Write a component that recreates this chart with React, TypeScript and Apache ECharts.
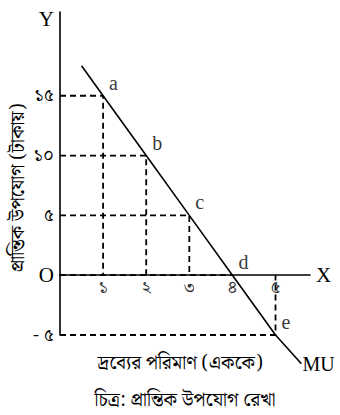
import React, { useEffect, useRef } from "react";
import * as echarts from "echarts";

const quantities = [1, 2, 3, 4, 5];
const marginalUtility = [15, 10, 5, 0, -5];
const pointNames = ["a", "b", "c", "d", "e"];
const lineStart = [0.5, 17.5];
const lineEnd = [5.6, -7.4];
const bnDigits: Record<string, string> = { "-5": "- ৫", "0": "O", "5": "৫", "10": "১০", "15": "১৫" };
const xTickLabels = ["১", "২", "৩", "৪", "৫"];
const yTitle = "প্রান্তিক উপযোগ (টাকায়)";
const xTitle = "দ্রব্যের পরিমাণ (এককে)";
const caption = "চিত্র: প্রান্তিক উপযোগ রেখা";

const SERIF = "'Liberation Serif', 'DejaVu Serif', serif";
const BN = "'Noto Serif Bengali', 'Noto Sans Bengali', 'Lohit Bengali', 'Noto Sans', sans-serif";

export default function App() {
  const ref = useRef<HTMLDivElement>(null);
  useEffect(() => {
    if (!ref.current) return;
    const chart = echarts.init(ref.current, null, { renderer: "svg" });
    const guides = quantities.map((q, i) => ({
      type: "line",
      data: [[0, marginalUtility[i]], [q, marginalUtility[i]], [q, 0]],
      symbol: "none",
      silent: true,
      lineStyle: { color: "#000", width: 1.8, type: [6, 4] },
      z: 1,
    }));
    chart.setOption({
      animation: false,
      grid: { left: 60, right: 30, top: 12, bottom: 80 },
      xAxis: {
        type: "value",
        min: 0,
        max: 5.8,
        interval: 1,
        name: "X",
        nameLocation: "end",
        nameGap: 6,
        nameTextStyle: { fontFamily: SERIF, fontSize: 21, color: "#000", verticalAlign: "middle" },
        axisLine: { onZero: true, lineStyle: { color: "#000", width: 1.6 } },
        axisTick: { show: false },
        splitLine: { show: false },
        axisLabel: { show: false },
      },
      yAxis: {
        type: "value",
        min: -5,
        max: 22,
        interval: 5,
        name: "Y",
        nameLocation: "end",
        nameGap: 4,
        nameTextStyle: {
          fontFamily: SERIF,
          fontSize: 21,
          color: "#000",
          align: "right",
          verticalAlign: "top",
          padding: [0, 6, 0, 0],
        },
        axisLine: { show: true, lineStyle: { color: "#000", width: 1.6 } },
        axisTick: { show: false },
        splitLine: { show: false },
        axisLabel: {
          formatter: (v: number) => {
            const s = bnDigits[String(v)] || "";
            return v === 0 ? "{o|" + s + "}" : s;
          },
          fontFamily: BN,
          fontSize: 18,
          color: "#000",
          margin: 6,
          rich: { o: { fontFamily: SERIF, fontSize: 21, color: "#000" } },
        },
      },
      series: [
        ...guides,
        {
          type: "line",
          data: [lineStart, ...quantities.map((q, i) => [q, marginalUtility[i]]), lineEnd],
          symbol: "none",
          clip: false,
          lineStyle: { color: "#000", width: 1.6 },
          z: 3,
          endLabel: {
            show: true,
            formatter: "MU",
            fontFamily: SERIF,
            fontSize: 20,
            color: "#000",
            distance: 1,
          },
        },
        {
          type: "scatter",
          data: quantities.map((q, i) => ({ value: [q, marginalUtility[i]], name: pointNames[i] })),
          symbolSize: 0,
          label: {
            show: true,
            position: "right",
            formatter: "{b}",
            fontFamily: SERIF,
            fontSize: 20,
            color: "#000",
            offset: [1, -13],
          },
          z: 4,
        },
        {
          type: "scatter",
          data: quantities.map((q, i) => ({ value: [q, 0], name: xTickLabels[i] })),
          symbolSize: 0,
          label: {
            show: true,
            position: "bottom",
            distance: 3,
            formatter: "{b}",
            fontFamily: BN,
            fontSize: 18,
            color: "#000",
          },
          z: 4,
        },
      ],
      graphic: [
        {
          type: "text",
          x: 18,
          y: 188,
          rotation: Math.PI / 2,
          style: { text: yTitle, fontFamily: BN, fontSize: 19, fill: "#000", align: "center", verticalAlign: "middle" },
        },
        {
          type: "text",
          x: 180,
          y: 363,
          style: { text: xTitle, fontFamily: BN, fontSize: 19, fill: "#000", align: "center", verticalAlign: "middle" },
        },
        {
          type: "text",
          x: 185,
          y: 400,
          style: { text: caption, fontFamily: BN, fontSize: 19, fill: "#000", align: "center", verticalAlign: "middle" },
        },
      ],
    });
    return () => chart.dispose();
  }, []);
  return <div ref={ref} style={{ width: 340, height: 415, position: "absolute", left: 0, top: 0, background: "#fff" }} />;
}
